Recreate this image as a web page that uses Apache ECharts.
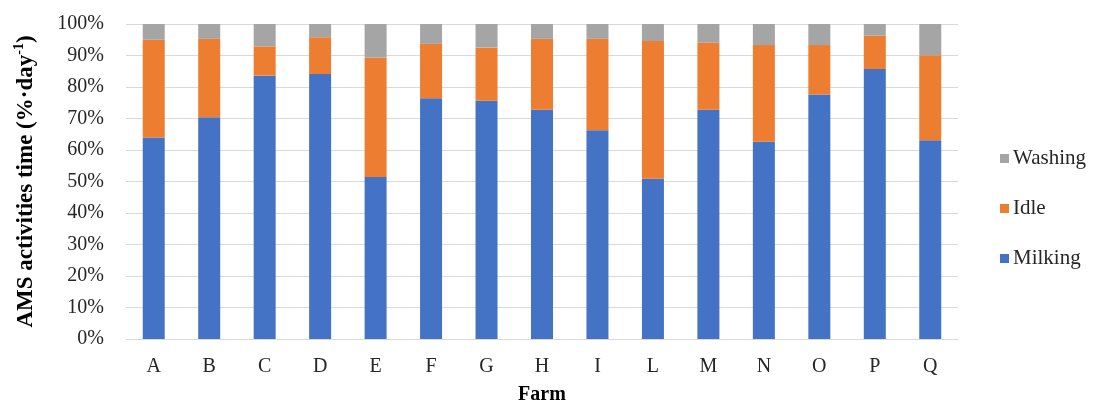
<!DOCTYPE html>
<html>
<head>
<meta charset="utf-8">
<script src="https://cdn.jsdelivr.net/npm/echarts@6/dist/echarts.min.js"></script>
<style>
html,body{margin:0;padding:0;background:#fff;}
#c{width:1104px;height:402px;}
</style>
</head>
<body>
<div id="c"></div>
<script>
const categories = ['A','B','C','D','E','F','G','H','I','L','M','N','O','P','Q'];
const milking = [64.0, 70.4, 83.6, 84.1, 51.4, 76.4, 75.6, 72.8, 66.3, 50.9, 72.8, 62.6, 77.6, 85.7, 63.1];
const idle    = [31.0, 24.9,  9.3, 11.7, 37.9, 17.3, 16.9, 22.5, 29.0, 43.7, 21.3, 30.7, 15.7, 10.6, 27.0];
const washing = [ 5.0,  4.7,  7.1,  4.2, 10.7,  6.3,  7.5,  4.7,  4.7,  5.4,  5.9,  6.7,  6.7,  3.7,  9.9];
const yTicks = [0,10,20,30,40,50,60,70,80,90,100];

const serif = '"Liberation Serif", "Times New Roman", serif';
const chart = echarts.init(document.getElementById('c'), null, {renderer: 'canvas'});
const barW = 22;
chart.setOption({
  animation: false,
  backgroundColor: '#fff',
  grid: {left: 126, right: 146, top: 24, bottom: 63, outerBoundsMode: 'none', containLabel: false},
  legend: {
    orient: 'vertical',
    left: 995,
    top: 143,
    itemWidth: 9,
    itemHeight: 9,
    itemGap: 29,
    icon: 'rect',
    data: ['Washing','Idle','Milking'],
    textStyle: {fontFamily: serif, fontSize: 21, color: '#262626', padding: [0,0,0,-1]}
  },
  xAxis: {
    type: 'category',
    data: categories,
    name: 'Farm',
    nameLocation: 'middle',
    nameGap: 46,
    nameTextStyle: {fontFamily: serif, fontSize: 20, fontWeight: 'bold', color: '#000'},
    axisLine: {lineStyle: {color: '#D9D9D9', width: 1}},
    axisTick: {show: false},
    axisLabel: {fontFamily: serif, fontSize: 20, color: '#262626', margin: 18}
  },
  yAxis: {
    type: 'value',
    min: 0, max: 100, interval: 10,
    name: '{b|AMS activities time (%·day}{s|-1}{b|)}',
    nameLocation: 'middle',
    nameGap: 88,
    nameTextStyle: {
      rich: {
        b: {fontFamily: serif, fontSize: 23, fontWeight: 'bold', color: '#000', lineHeight: 26, verticalAlign: 'bottom'},
        s: {fontFamily: serif, fontSize: 14, fontWeight: 'bold', color: '#000', lineHeight: 26, verticalAlign: 'top', padding: [0,0,8,0]}
      }
    },
    axisLine: {show: false},
    axisTick: {show: false},
    splitLine: {lineStyle: {color: '#D9D9D9', width: 1}},
    axisLabel: {fontFamily: serif, fontSize: 20, color: '#262626', margin: 22,
      formatter: function(v){ return yTicks.indexOf(v) >= 0 ? v + '%' : ''; }}
  },
  series: [
    {name: 'Milking', type: 'bar', stack: 's', data: milking, barWidth: barW, itemStyle: {color: '#4472C4'}},
    {name: 'Idle', type: 'bar', stack: 's', data: idle, barWidth: barW, itemStyle: {color: '#ED7D31'}},
    {name: 'Washing', type: 'bar', stack: 's', data: washing, barWidth: barW, itemStyle: {color: '#A5A5A5'}}
  ]
});
</script>
</body>
</html>
